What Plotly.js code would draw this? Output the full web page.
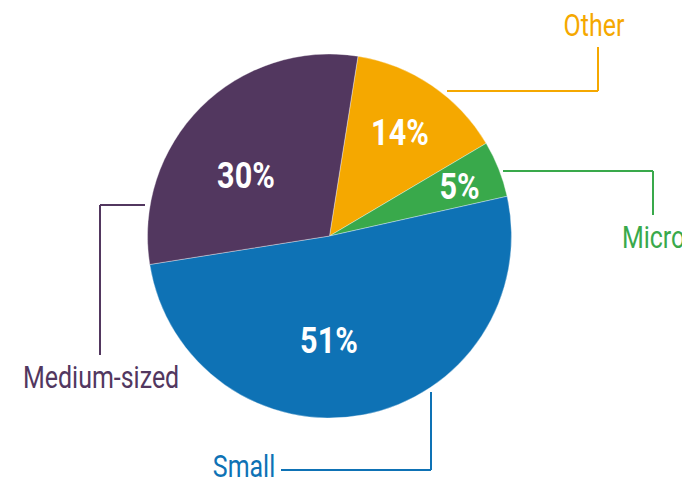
<!DOCTYPE html>
<html>
<head>
<meta charset="utf-8">
<script src="https://cdn.plot.ly/plotly-3.0.1.min.js"></script>
<style>html,body{margin:0;padding:0;background:#fff;}#chart{width:682px;height:481px;}</style>
</head>
<body>
<div id="chart"></div>
<script>
const categories = ["Other", "Micro", "Small", "Medium-sized"];
const shares = [14, 5, 51, 30];
const colors = ["#F5A800", "#39A94B", "#0E72B5", "#52375F"];

const W = 682, H = 481;
const px = x => x / W;
const py = y => 1 - y / H;
const FONT = "Roboto, Liberation Sans, sans-serif";

// label layout (pixel positions of text centres)
const pctPos = [[400, 133], [460, 187], [329, 341], [246, 176]];
const namePos = [[594, 25], [653, 237], [244, 466], [101, 377]];
const leaders = [
  [[447, 91], [598, 91], [598, 47]],
  [[503, 171], [653, 171], [653, 215]],
  [[431, 392], [431, 470], [281, 470]],
  [[145, 205], [100, 205], [100, 355]]
];

const annotations = [];
const shapes = [];
categories.forEach((c, i) => {
  annotations.push({
    xref: "paper", yref: "paper", x: px(pctPos[i][0]), y: py(pctPos[i][1]),
    xanchor: "center", yanchor: "middle", showarrow: false,
    text: shares[i] + "%", name: "pct",
    font: {family: FONT, size: 36, weight: 700, color: "#ffffff"}
  });
  annotations.push({
    xref: "paper", yref: "paper", x: px(namePos[i][0]), y: py(namePos[i][1]),
    xanchor: "center", yanchor: "middle", showarrow: false,
    text: c, name: "name",
    font: {family: FONT, size: 32, color: colors[i]}
  });
  const pts = leaders[i];
  for (let k = 0; k < pts.length - 1; k++) {
    shapes.push({
      type: "line", xref: "paper", yref: "paper",
      x0: px(pts[k][0]), y0: py(pts[k][1]), x1: px(pts[k+1][0]), y1: py(pts[k+1][1]),
      line: {color: colors[i], width: 2}
    });
  }
});

const trace = {
  type: "pie",
  labels: categories,
  values: shares,
  sort: false,
  direction: "clockwise",
  rotation: 9,
  textinfo: "none",
  hoverinfo: "label+percent",
  marker: {colors: colors, line: {color: "rgba(255,255,255,0.6)", width: 0.6}},
  domain: {x: [px(147), px(512)], y: [py(418), py(54)]},
  showlegend: false
};

Plotly.newPlot("chart", [trace], {
  width: W, height: H,
  margin: {l: 0, r: 0, t: 0, b: 0},
  paper_bgcolor: "#ffffff",
  plot_bgcolor: "#ffffff",
  showlegend: false,
  annotations: annotations,
  shapes: shapes
}, {displayModeBar: false, staticPlot: true}).then(gd => {
  // condensed look: narrow the glyphs of every label around its centre
  gd.querySelectorAll("text.annotation-text").forEach(t => {
    const bold = t.style.fontWeight === "700" || t.style.fontWeight === "bold";
    const f = bold ? 0.85 : 0.78;
    const len = t.getComputedTextLength();
    t.setAttribute("textLength", (len * f).toFixed(1));
    t.setAttribute("lengthAdjust", "spacingAndGlyphs");
  });
});
</script>
</body>
</html>
